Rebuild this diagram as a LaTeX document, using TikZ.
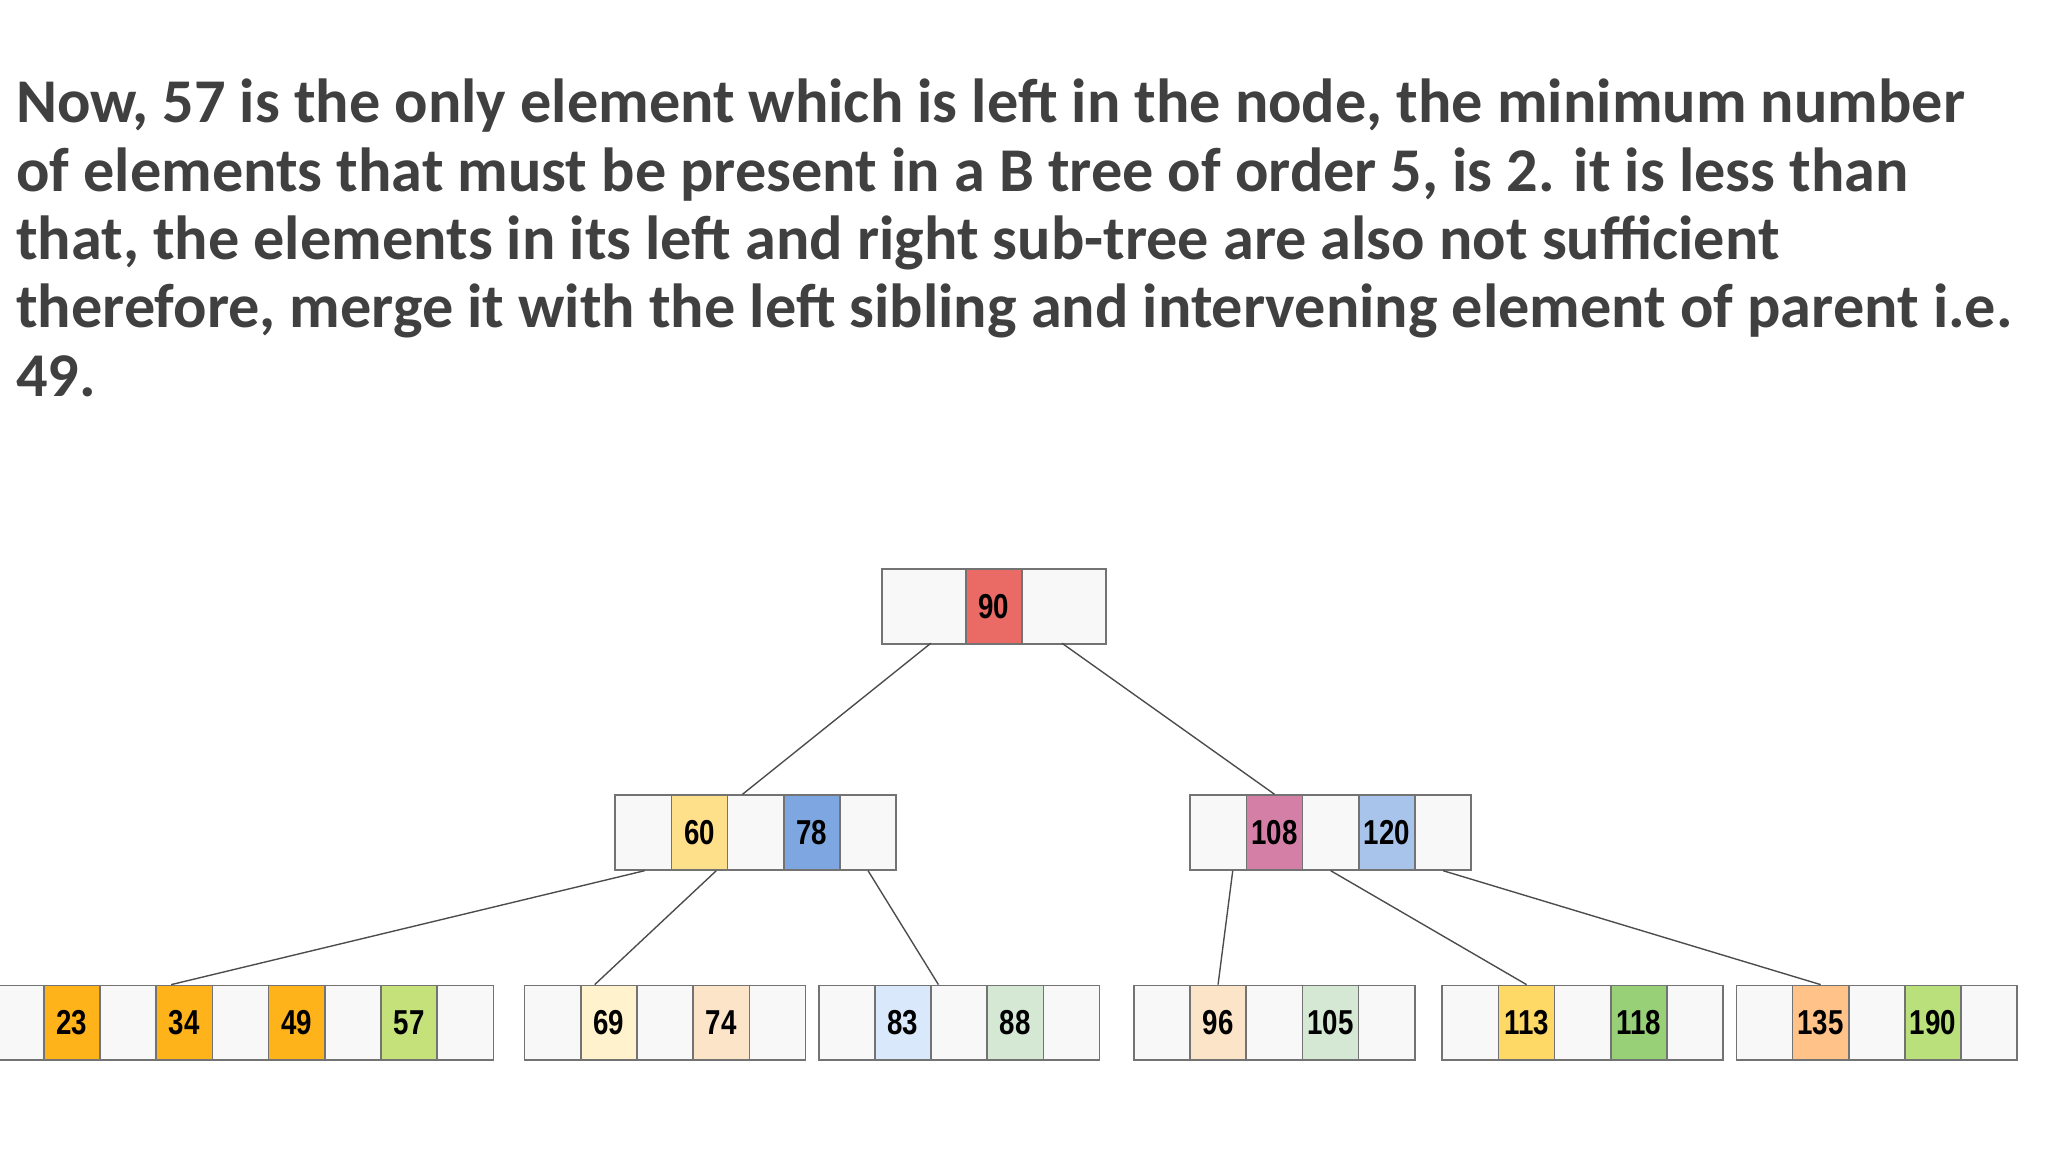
\documentclass[tikz,border=0pt]{standalone}
\usepackage{fontspec}
\setmainfont{Carlito}
\newfontfamily\numfont{Liberation Sans}[FakeStretch=0.8]
\begin{document}
\begin{tikzpicture}[x=0.02cm,y=-0.02cm,
  cell/.style={draw=black!55,line width=0.7pt,inner sep=0pt,minimum height=1.14cm,anchor=north west,font=\numfont\bfseries\fontsize{15}{15}\selectfont},
  edge/.style={draw=black!70,line width=0.6pt}]
\useasboundingbox (0,0) rectangle (1560,877.5);
\definecolor{txt}{HTML}{404040}
\definecolor{o1}{HTML}{FFB31A}\definecolor{g1}{HTML}{C5E17A}
\definecolor{y1}{HTML}{FFF2CC}\definecolor{p1}{HTML}{FCE4C8}
\definecolor{b1}{HTML}{DAE8FC}\definecolor{g2}{HTML}{D5E8D4}
\definecolor{y2}{HTML}{FFD966}\definecolor{g3}{HTML}{97D077}
\definecolor{p2}{HTML}{FFC38A}\definecolor{g4}{HTML}{B9E07A}
\definecolor{w}{HTML}{F8F8F8}
\definecolor{y3}{HTML}{FFE08A}\definecolor{bb}{HTML}{7EA6E0}
\definecolor{mg}{HTML}{D47FA6}\definecolor{lb2}{HTML}{A9C4EB}\definecolor{rr}{HTML}{EA6B66}
\node[anchor=north west,inner sep=0pt,text=txt,font=\bfseries\fontsize{27}{29.6}\selectfont,align=left] (title) at (12,60) {Now, 57 is the only element which is left in the node, the minimum number\\ of elements that must be present in a B tree of order 5, is 2. it is less than\\ that, the elements in its left and right sub-tree are also not sufficient\\ therefore, merge it with the left sibling and intervening element of parent i.e.\\ 49.};
% root
\node[cell,minimum width=1.28cm,fill=w] (r1) at (671,433) {};
\node[cell,minimum width=0.86cm,fill=rr] (r2) at (735,433) {90};
\node[cell,minimum width=1.28cm,fill=w] (r3) at (778,433) {};
% middle
\foreach \i/\c/\t in {0/w/,1/y3/60,2/w/,3/bb/78,4/w/}
  {\node[cell,minimum width=0.856cm,fill=\c] (ml\i) at (468+\i*42.8,605) {\t};}
\foreach \i/\c/\t in {0/w/,1/mg/108,2/w/,3/lb2/120,4/w/}
  {\node[cell,minimum width=0.856cm,fill=\c] (mr\i) at (906+\i*42.8,605) {\t};}
% leaves
\foreach \i/\c/\t in {0/w/,1/o1/23,2/w/,3/o1/34,4/w/,5/o1/49,6/w/,7/g1/57,8/w/}
  {\node[cell,minimum width=0.856cm,fill=\c] (la\i) at (-10+\i*42.8,750) {\t};}
\foreach \n/\x/\ca/\ta/\cb/\tb in {lb/399/y1/69/p1/74, lc/623/b1/83/g2/88, ld/863/p1/96/g2/105, le/1098/y2/113/g3/118, lf/1322/p2/135/g4/190}{
  \node[cell,minimum width=0.856cm,fill=w] (\n0) at (\x,750) {};
  \node[cell,minimum width=0.856cm,fill=\ca] (\n1) at (\x+42.8,750) {\ta};
  \node[cell,minimum width=0.856cm,fill=w] (\n2) at (\x+85.6,750) {};
  \node[cell,minimum width=0.856cm,fill=\cb] (\n3) at (\x+128.4,750) {\tb};
  \node[cell,minimum width=0.856cm,fill=w] (\n4) at (\x+171.2,750) {};
}
% edges
\coordinate (e1) at (709,490); \coordinate (e2) at (809,490);
\draw[edge] (e1) -- ([xshift=0.24cm]ml2.north west);
\draw[edge] (e2) -- (mr1.north);
\draw[edge] ([xshift=-0.42cm]ml0.south east) -- ([xshift=-0.2cm]la3.north);
\draw[edge] ([xshift=-0.6cm]ml2.south) -- ([xshift=0.64cm]lb0.north);
\draw[edge] (ml4.south) -- ([xshift=0.1cm]lc1.north east);
\draw[edge] ([xshift=0.22cm]mr0.south) -- (ld1.north);
\draw[edge] (mr2.south) -- (le1.north);
\draw[edge] (mr4.south) -- (lf1.north);
\end{tikzpicture}
\end{document}
